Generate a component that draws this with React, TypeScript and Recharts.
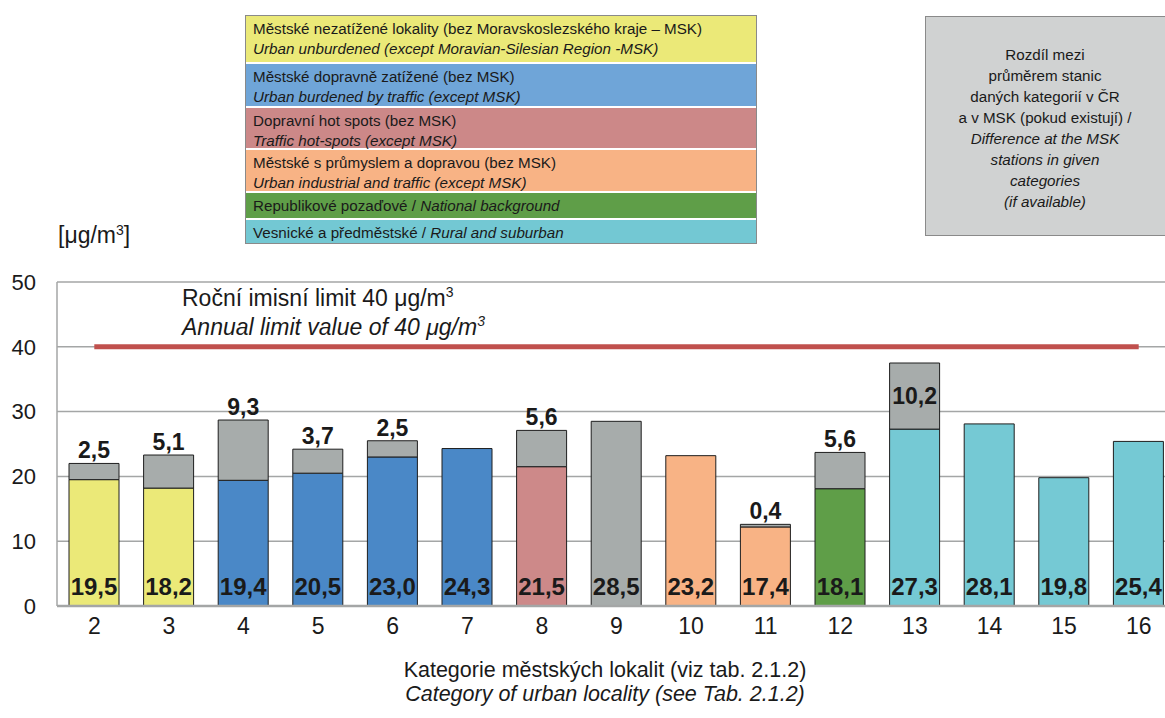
import React from 'react';
import { BarChart, Bar, XAxis, YAxis, CartesianGrid, ReferenceLine, Cell, LabelList } from 'recharts';

// ---- data ----
const categories = ['2', '3', '4', '5', '6', '7', '8', '9', '10', '11', '12', '13', '14', '15', '16'];
const nationalValues = [19.5, 18.2, 19.4, 20.5, 23.0, 24.3, 21.5, 28.5, 23.2, 12.2, 18.1, 27.3, 28.1, 19.8, 25.4];
const mskDifference: (number | null)[] = [2.5, 5.1, 9.3, 3.7, 2.5, null, 5.6, null, null, 0.4, 5.6, 10.2, null, null, null];
const nationalLabels = ['19,5', '18,2', '19,4', '20,5', '23,0', '24,3', '21,5', '28,5', '23,2', '17,4', '18,1', '27,3', '28,1', '19,8', '25,4'];
const categoryGroups = ['unburdened', 'unburdened', 'traffic', 'traffic', 'traffic', 'traffic', 'hotspot', 'none', 'industrial', 'industrial', 'background', 'rural', 'rural', 'rural', 'rural'];
const yTicks = [0, 10, 20, 30, 40, 50];
const limitValue = 40;

const legendRows = [
  { group: 'unburdened', cz: 'Městské nezatížené lokality (bez Moravskoslezského kraje – MSK)', en: 'Urban unburdened (except Moravian-Silesian Region -MSK)', twoLine: true },
  { group: 'traffic', cz: 'Městské dopravně zatížené (bez MSK)', en: 'Urban burdened by traffic (except MSK)', twoLine: true },
  { group: 'hotspot', cz: 'Dopravní hot spots (bez MSK)', en: 'Traffic hot-spots (except MSK)', twoLine: true },
  { group: 'industrial', cz: 'Městské s průmyslem a dopravou (bez MSK)', en: 'Urban industrial and traffic (except MSK)', twoLine: true },
  { group: 'background', cz: 'Republikové pozaďové / ', en: 'National background', twoLine: false },
  { group: 'rural', cz: 'Vesnické a předměstské / ', en: 'Rural and suburban', twoLine: false },
];

// ---- styles ----
const barColors: Record<string, string> = {
  unburdened: '#ebe978',
  traffic: '#4a88c7',
  hotspot: '#cd8989',
  none: '#a7acab',
  industrial: '#f8b385',
  background: '#5f9e48',
  rural: '#75c9d4',
};
const legendColors: Record<string, string> = {
  unburdened: '#ebe978',
  traffic: '#6fa5d8',
  hotspot: '#cc8888',
  industrial: '#f8b385',
  background: '#5f9e48',
  rural: '#73c8d3',
};
const rowHeights = [48, 44, 42, 43, 27, 25];
const diffColor = '#a7acab';
const FONT = '"Liberation Sans", Arial, sans-serif';

const data = categories.map((c, i) => ({
  category: c,
  national: nationalValues[i],
  diff: mskDifference[i],
  nationalLabel: nationalLabels[i],
  group: categoryGroups[i],
}));

const getBox = (p: any) => {
  const vb = p.viewBox || {};
  return {
    x: Number(p.x ?? vb.x),
    y: Number(p.y ?? vb.y),
    width: Number(p.width ?? vb.width),
    height: Number(p.height ?? vb.height),
  };
};

const BottomLabel = (p: any) => {
  const { x, y, width, height } = getBox(p);
  if (p.value == null) return null;
  return (
    <text x={x + width / 2} y={y + height - 11} textAnchor="middle" fontFamily={FONT} fontWeight="bold" fontSize={24} fill="#1a1a1a">
      {p.value}
    </text>
  );
};

// top label sits above the bar, unless the bar reaches close to the limit line
const TopLabel = (p: any) => {
  const { x, y, width, height } = getBox(p);
  if (p.value == null) return null;
  const txt = Number(p.value).toFixed(1).replace('.', ',');
  const inside = y < 380;
  return (
    <text
      x={x + width / 2}
      y={inside ? y + Math.abs(height) / 2 + 8 : y - 5}
      textAnchor="middle"
      fontFamily={FONT}
      fontWeight="bold"
      fontSize={23}
      fill="#1a1a1a"
    >
      {txt}
    </text>
  );
};

const sup = { fontSize: 14, verticalAlign: 'top', lineHeight: '14px', position: 'relative' as const, top: 1 };

export default function App() {
  return (
    <div style={{ position: 'fixed', left: 0, top: 0, width: 1165, height: 718, overflow: 'hidden', background: '#fff', fontFamily: FONT, color: '#1a1a1a' }}>
      {/* legend of categories */}
      <div style={{ position: 'absolute', left: 245, top: 15, width: 510, border: '1px solid #8a8a8a', background: '#fff' }}>
        {legendRows.map((r, i) => (
          <div
            key={r.group}
            style={{
              background: legendColors[r.group],
              height: rowHeights[i] - 2,
              marginBottom: i < legendRows.length - 1 ? 2 : 0,
              boxSizing: 'border-box',
              padding: '3px 0 0 7px',
              fontSize: 15.2,
              lineHeight: '20px',
              whiteSpace: 'nowrap',
              color: '#1a1a1a',
            }}
          >
            {r.twoLine ? (
              <>
                <div>{r.cz}</div>
                <div style={{ fontStyle: 'italic' }}>{r.en}</div>
              </>
            ) : (
              <div>
                {r.cz}
                <span style={{ fontStyle: 'italic' }}>{r.en}</span>
              </div>
            )}
          </div>
        ))}
      </div>

      {/* difference legend box */}
      <div
        style={{
          position: 'absolute',
          left: 925,
          top: 16,
          width: 250,
          height: 220,
          boxSizing: 'border-box',
          background: '#d0d2d2',
          border: '1px solid #8a8a8a',
          fontSize: 15.2,
          lineHeight: '21px',
          paddingTop: 27,
          paddingRight: 10,
          textAlign: 'center',
          color: '#1a1a1a',
        }}
      >
        <div>Rozdíl mezi</div>
        <div>průměrem stanic</div>
        <div>daných kategorií v ČR</div>
        <div>a v MSK (pokud existují) /</div>
        <div style={{ fontStyle: 'italic' }}>Difference at the MSK</div>
        <div style={{ fontStyle: 'italic' }}>stations in given</div>
        <div style={{ fontStyle: 'italic' }}>categories</div>
        <div style={{ fontStyle: 'italic' }}>(if available)</div>
      </div>

      {/* unit */}
      <div style={{ position: 'absolute', left: 58, top: 222, fontSize: 23, lineHeight: '26px', whiteSpace: 'nowrap' }}>
        [μg/m<sup style={sup}>3</sup>]
      </div>

      <div style={{ position: 'absolute', left: 0, top: 0 }}>
        <BarChart
          width={1200}
          height={718}
          data={data}
          margin={{ top: 282, right: 24, bottom: 82, left: 0 }}
          barSize={50}
        >
          <CartesianGrid horizontal vertical={false} stroke="#a4a6a6" strokeWidth={1.5} />
          <YAxis
            width={57}
            domain={[0, 50]}
            ticks={yTicks}
            interval={0}
            tickLine={false}
            tickSize={0}
            tickMargin={21}
            axisLine={{ stroke: '#a4a6a6', strokeWidth: 1.5 }}
            tick={{ fontSize: 22, fill: '#1a1a1a', fontFamily: FONT }}
          />
          <XAxis
            dataKey="category"
            height={30}
            tickLine={false}
            tickSize={0}
            tickMargin={12}
            interval={0}
            axisLine={{ stroke: '#a4a6a6', strokeWidth: 2.5 }}
            tick={{ fontSize: 23, fill: '#1a1a1a', fontFamily: FONT }}
          />
          <ReferenceLine
            segment={[
              { x: categories[0], y: limitValue },
              { x: categories[categories.length - 1], y: limitValue },
            ]}
            stroke="#c0504d"
            strokeWidth={5}
            ifOverflow="visible"
          />
          <Bar dataKey="national" stackId="a" stroke="#1e1e1e" strokeWidth={1} isAnimationActive={false}>
            {data.map((d) => (
              <Cell key={d.category} fill={barColors[d.group]} />
            ))}
            <LabelList dataKey="nationalLabel" content={BottomLabel} />
          </Bar>
          <Bar dataKey="diff" stackId="a" fill={diffColor} stroke="#1e1e1e" strokeWidth={1} isAnimationActive={false}>
            <LabelList dataKey="diff" content={TopLabel} />
          </Bar>
        </BarChart>
      </div>

      {/* limit annotation */}
      <div style={{ position: 'absolute', left: 182, top: 284, fontSize: 23, lineHeight: '29px', whiteSpace: 'nowrap' }}>
        <div>
          Roční imisní limit 40 μg/m<sup style={sup}>3</sup>
        </div>
        <div style={{ fontStyle: 'italic' }}>
          Annual limit value of 40 μg/m<sup style={sup}>3</sup>
        </div>
      </div>

      {/* x axis title */}
      <div style={{ position: 'absolute', left: 255, width: 700, top: 658, fontSize: 21.5, lineHeight: '24px', textAlign: 'center', whiteSpace: 'nowrap' }}>
        <div>Kategorie městských lokalit (viz tab. 2.1.2)</div>
        <div style={{ fontStyle: 'italic' }}>Category of urban locality (see Tab. 2.1.2)</div>
      </div>
    </div>
  );
}
